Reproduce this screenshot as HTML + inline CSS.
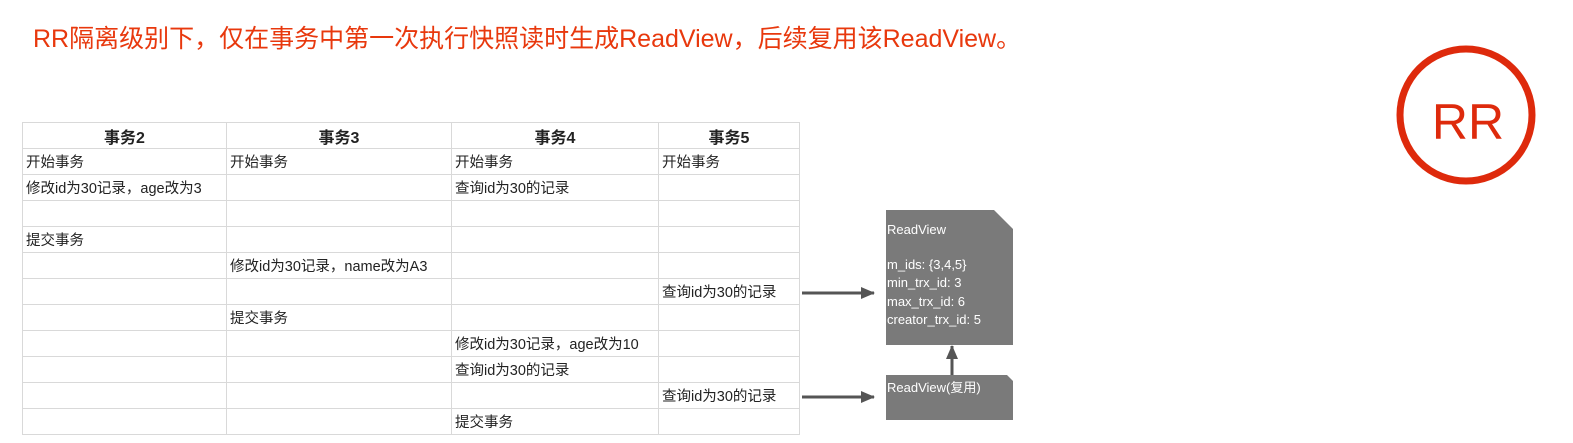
<!DOCTYPE html>
<html><head><meta charset="utf-8"><style>
body{margin:0;width:1573px;height:443px;background:#fff;position:relative;overflow:hidden;font-family:"Liberation Sans","Noto Sans CJK SC",sans-serif}
.title{position:absolute;left:33px;top:19px;font-size:25px;color:#e8380d;white-space:nowrap}
table{position:absolute;left:22px;top:122px;border-collapse:collapse;font-size:14.5px;color:#222;table-layout:fixed;width:777px}
td,th{border:1px solid #d9d9d9;height:25px;padding:0 3px;white-space:nowrap;text-align:left;overflow:visible}
th{text-align:center;font-size:16px;font-weight:bold}
.box{position:absolute;background:#7a7a7a;color:#fff;font-size:13px;line-height:18.5px;padding-left:1px}
</style></head><body>
<div class="title">RR隔离级别下，仅在事务中第一次执行快照读时生成ReadView，后续复用该ReadView。</div>
<table>
<colgroup><col style="width:204px"><col style="width:225px"><col style="width:207px"><col style="width:141px"></colgroup>
<tr><th>事务2</th><th>事务3</th><th>事务4</th><th>事务5</th></tr>
<tr><td>开始事务</td><td>开始事务</td><td>开始事务</td><td>开始事务</td></tr>
<tr><td>修改id为30记录，age改为3</td><td></td><td>查询id为30的记录</td><td></td></tr>
<tr><td></td><td></td><td></td><td></td></tr>
<tr><td>提交事务</td><td></td><td></td><td></td></tr>
<tr><td></td><td>修改id为30记录，name改为A3</td><td></td><td></td></tr>
<tr><td></td><td></td><td></td><td>查询id为30的记录</td></tr>
<tr><td></td><td>提交事务</td><td></td><td></td></tr>
<tr><td></td><td></td><td>修改id为30记录，age改为10</td><td></td></tr>
<tr><td></td><td></td><td>查询id为30的记录</td><td></td></tr>
<tr><td></td><td></td><td></td><td>查询id为30的记录</td></tr>
<tr><td></td><td></td><td>提交事务</td><td></td></tr>
</table>
<div class="box" style="left:886px;top:210px;width:127px;height:135px;clip-path:polygon(0 0,108px 0,127px 19px,127px 100%,0 100%)"><div style="margin-top:11px">ReadView</div><div style="margin-top:16px">m_ids: {3,4,5}<br>min_trx_id: 3<br>max_trx_id: 6<br>creator_trx_id: 5</div></div>
<div class="box" style="left:886px;top:375px;width:127px;height:45px;clip-path:polygon(0 0,121px 0,127px 6px,127px 100%,0 100%)"><div style="margin-top:4px">ReadView(复用)</div></div>
<svg style="position:absolute;left:0;top:0" width="1573" height="443">
<defs><marker id="a" markerWidth="14" markerHeight="12" refX="13" refY="6" orient="auto" markerUnits="userSpaceOnUse"><path d="M0,0L14,6L0,12z" fill="#555"/></marker></defs>
<line x1="802" y1="293" x2="874" y2="293" stroke="#555" stroke-width="3" marker-end="url(#a)"/>
<line x1="802" y1="397" x2="874" y2="397" stroke="#555" stroke-width="3" marker-end="url(#a)"/>
<line x1="952" y1="375" x2="952" y2="346" stroke="#555" stroke-width="3" marker-end="url(#a)"/>
<circle cx="1466" cy="115" r="66" fill="none" stroke="#de2a0c" stroke-width="7"/>
<text x="1468" y="139" text-anchor="middle" font-family="Liberation Sans" font-size="50" fill="#de2a0c">RR</text>
</svg>
</body></html>
